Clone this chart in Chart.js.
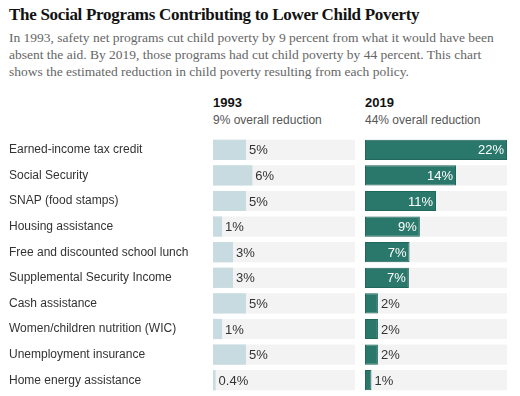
<!DOCTYPE html>
<html>
<head>
<meta charset="utf-8">
<script src="https://cdn.jsdelivr.net/npm/chart.js@4"></script>
<style>
  body { margin: 0; background: #fff; width: 520px; height: 396px; position: relative; overflow: hidden; font-family: "Liberation Sans", Arial, sans-serif; }
  h1 { position: absolute; left: 9px; top: 5px; margin: 0; font: bold 17px "Liberation Serif", serif; color: #121212; letter-spacing: -0.3px; }
  .sub { position: absolute; left: 9px; top: 29px; width: 505px; margin: 0; font: 13.5px/17px "Liberation Serif", serif; color: #666; }
  .head { position: absolute; top: 94px; font-size: 12px; color: #555; line-height: 17px; }
  .head b { color: #121212; font-size: 13px; }
  .box { position: absolute; top: 137px; }
</style>
</head>
<body>
<h1>The Social Programs Contributing to Lower Child Poverty</h1>
<p class="sub">In 1993, safety net programs cut child poverty by 9 percent from what it would have been absent the aid. By 2019, those programs had cut child poverty by 44 percent. This chart shows the estimated reduction in child poverty resulting from each policy.</p>
<div class="head" style="left:213px"><b>1993</b><br>9% overall reduction</div>
<div class="head" style="left:365px"><b>2019</b><br>44% overall reduction</div>
<div class="box" style="left:0"><canvas id="left" width="355" height="256"></canvas></div>
<div class="box" style="left:365px"><canvas id="right" width="142" height="256"></canvas></div>
<script>
// program names, top to bottom
const programs = [
  "Earned-income tax credit",
  "Social Security",
  "SNAP (food stamps)",
  "Housing assistance",
  "Free and discounted school lunch",
  "Supplemental Security Income",
  "Cash assistance",
  "Women/children nutrition (WIC)",
  "Unemployment insurance",
  "Home energy assistance"
];

// percent reduction in child poverty (bar lengths)
const values1993 = [5.1, 6.1, 5.1, 1.4, 3.1, 3.1, 5.1, 1.4, 5.1, 0.4];
const values2019 = [22, 14.1, 11, 8.5, 6.9, 6.8, 2.0, 2.0, 2.0, 1.0];

// printed labels
const labels1993 = ["5%", "6%", "5%", "1%", "3%", "3%", "5%", "1%", "5%", "0.4%"];
const labels2019 = ["22%", "14%", "11%", "9%", "7%", "7%", "2%", "2%", "2%", "1%"];

const scaleMax = 22;
const track = programs.map(() => scaleMax);

// draws the % labels at the end of each bar
const valueLabels = {
  id: "valueLabels",
  afterDatasetsDraw(chart, args, opts) {
    const ctx = chart.ctx;
    const meta = chart.getDatasetMeta(1);
    ctx.save();
    ctx.textBaseline = "middle";
    ctx.font = "13px 'Liberation Sans', Arial, sans-serif";
    meta.data.forEach((bar, i) => {
      const text = opts.texts[i];
      const w = bar.x - bar.base;
      if (opts.inside && w > 32) {
        ctx.fillStyle = "#fff";
        ctx.textAlign = "right";
        ctx.fillText(text, bar.x - 3, bar.y + 1);
      } else {
        ctx.fillStyle = "#333";
        ctx.textAlign = "left";
        ctx.fillText(text, bar.x + 3, bar.y + 1);
      }
    });
    ctx.restore();
  }
};

function makeChart(id, values, texts, color, border, showLabels, inside) {
  return new Chart(document.getElementById(id), {
    type: "bar",
    data: {
      labels: programs,
      datasets: [
        {
          data: track,
          backgroundColor: "#f3f3f3",
          order: 2
        },
        {
          data: values,
          backgroundColor: color,
          borderColor: border || color,
          borderWidth: border ? 1 : 0,
          order: 1
        }
      ]
    },
    options: {
      indexAxis: "y",
      responsive: false,
      animation: false,
      layout: { padding: { left: showLabels ? 9 : 0, right: 0, top: 0, bottom: 0 } },
      datasets: {
        bar: { grouped: false, categoryPercentage: 1, barPercentage: 0.79, borderSkipped: false }
      },
      scales: {
        x: { display: false, min: 0, max: scaleMax },
        y: {
          display: showLabels,
          grid: { display: false },
          border: { display: false },
          ticks: {
            crossAlign: "far",
            color: "#333",
            font: { family: "'Liberation Sans', Arial, sans-serif", size: 12 }
          },
          afterFit(axis) {
            if (!showLabels) return;
            // fixed label column, no extra top/bottom room
            axis.width = 204;
            axis.paddingTop = 0;
            axis.paddingBottom = 0;
          }
        }
      },
      plugins: {
        legend: { display: false },
        tooltip: { enabled: false },
        valueLabels: { texts: texts, inside: inside }
      }
    },
    plugins: [valueLabels]
  });
}

makeChart("left", values1993, labels1993, "#c8dbe1", null, true, false);
makeChart("right", values2019, labels2019, "#2a786b", "#21675b", false, true);
</script>
</body>
</html>
